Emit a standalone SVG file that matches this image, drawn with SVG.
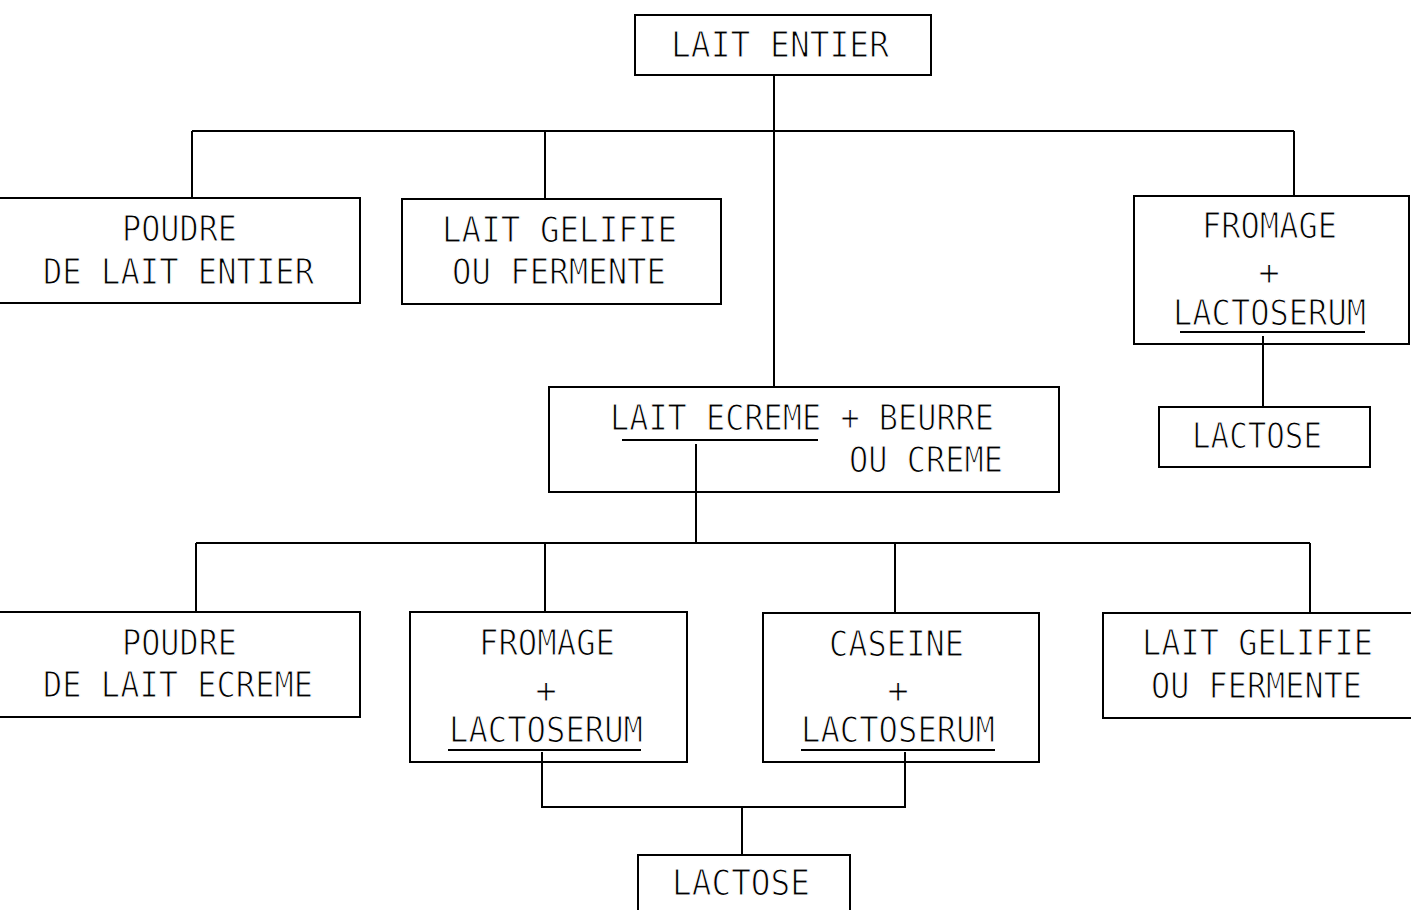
<svg xmlns="http://www.w3.org/2000/svg" width="1411" height="910" viewBox="0 0 1411 910">
<style>
  .box { fill: none; stroke: #000; stroke-width: 2; }
  .ln { fill: none; stroke: #000; stroke-width: 2; }
  .t { font-family: "DejaVu Sans Mono", "Liberation Mono", monospace; font-size: 35px; fill: #000; stroke: #fff; stroke-width: 1.1px; }
  .p { font-family: "DejaVu Sans Mono", "Liberation Mono", monospace; font-size: 36px; fill: #000; stroke: #fff; stroke-width: 1.1px; text-anchor: middle; }
</style>
<rect width="1411" height="910" fill="#fff"/>
<g id="connectors">
  <path class="ln" d="M774,75 V387"/>
  <path class="ln" d="M192,131 H1294"/>
  <path class="ln" d="M192,131 V198"/>
  <path class="ln" d="M545,131 V199"/>
  <path class="ln" d="M1294,131 V196"/>
  <path class="ln" d="M1263,336 V407"/>
  <path class="ln" d="M696,444 V543"/>
  <path class="ln" d="M196,543 H1310"/>
  <path class="ln" d="M196,543 V612"/>
  <path class="ln" d="M545,543 V612"/>
  <path class="ln" d="M895,543 V613"/>
  <path class="ln" d="M1310,543 V613"/>
  <path class="ln" d="M542,752 V807 H905 V752"/>
  <path class="ln" d="M742,807 V855"/>
</g>
<g id="lait-entier">
  <rect class="box" x="635" y="15" width="296" height="60"/>
  <text class="t" x="671" y="57" textLength="218" lengthAdjust="spacingAndGlyphs">LAIT ENTIER</text>
</g>
<g id="poudre-lait-entier">
  <rect class="box" x="-5" y="198" width="365" height="105"/>
  <text class="t" x="122" y="241" textLength="115" lengthAdjust="spacingAndGlyphs">POUDRE</text>
  <text class="t" x="43" y="284" textLength="271" lengthAdjust="spacingAndGlyphs">DE LAIT ENTIER</text>
</g>
<g id="lait-gelifie-1">
  <rect class="box" x="402" y="199" width="319" height="105"/>
  <text class="t" x="442" y="242" textLength="235" lengthAdjust="spacingAndGlyphs">LAIT GELIFIE</text>
  <text class="t" x="452" y="284" textLength="214" lengthAdjust="spacingAndGlyphs">OU FERMENTE</text>
</g>
<g id="fromage-lactoserum-1">
  <rect class="box" x="1134" y="196" width="275" height="148"/>
  <text class="t" x="1202" y="238" textLength="135" lengthAdjust="spacingAndGlyphs">FROMAGE</text>
  <text class="p" x="1269" y="285">+</text>
  <text class="t" x="1173" y="325" textLength="193" lengthAdjust="spacingAndGlyphs">LACTOSERUM</text>
  <path class="ln" d="M1180,332 H1365"/>
</g>
<g id="lactose-1">
  <rect class="box" x="1159" y="407" width="211" height="60"/>
  <text class="t" x="1192" y="448" textLength="130" lengthAdjust="spacingAndGlyphs">LACTOSE</text>
</g>
<g id="lait-ecreme-beurre">
  <rect class="box" x="549" y="387" width="510" height="105"/>
  <text class="t" x="610" y="430" textLength="384" lengthAdjust="spacingAndGlyphs">LAIT ECREME + BEURRE</text>
  <path class="ln" d="M622,440 H818"/>
  <text class="t" x="849" y="472" textLength="154" lengthAdjust="spacingAndGlyphs">OU CREME</text>
</g>
<g id="poudre-lait-ecreme">
  <rect class="box" x="-5" y="612" width="365" height="105"/>
  <text class="t" x="122" y="655" textLength="115" lengthAdjust="spacingAndGlyphs">POUDRE</text>
  <text class="t" x="43" y="697" textLength="270" lengthAdjust="spacingAndGlyphs">DE LAIT ECREME</text>
</g>
<g id="fromage-lactoserum-2">
  <rect class="box" x="410" y="612" width="277" height="150"/>
  <text class="t" x="479" y="655" textLength="136" lengthAdjust="spacingAndGlyphs">FROMAGE</text>
  <text class="p" x="546" y="703">+</text>
  <text class="t" x="449" y="742" textLength="194" lengthAdjust="spacingAndGlyphs">LACTOSERUM</text>
  <path class="ln" d="M448,750 H641"/>
</g>
<g id="caseine-lactoserum">
  <rect class="box" x="763" y="613" width="276" height="149"/>
  <text class="t" x="829" y="656" textLength="135" lengthAdjust="spacingAndGlyphs">CASEINE</text>
  <text class="p" x="898" y="703">+</text>
  <text class="t" x="801" y="742" textLength="194" lengthAdjust="spacingAndGlyphs">LACTOSERUM</text>
  <path class="ln" d="M801,750 H995"/>
</g>
<g id="lait-gelifie-2">
  <rect class="box" x="1103" y="613" width="320" height="105"/>
  <text class="t" x="1142" y="655" textLength="231" lengthAdjust="spacingAndGlyphs">LAIT GELIFIE</text>
  <text class="t" x="1151" y="698" textLength="211" lengthAdjust="spacingAndGlyphs">OU FERMENTE</text>
</g>
<g id="lactose-2">
  <rect class="box" x="638" y="855" width="212" height="70"/>
  <text class="t" x="672" y="895" textLength="138" lengthAdjust="spacingAndGlyphs">LACTOSE</text>
</g>
</svg>
